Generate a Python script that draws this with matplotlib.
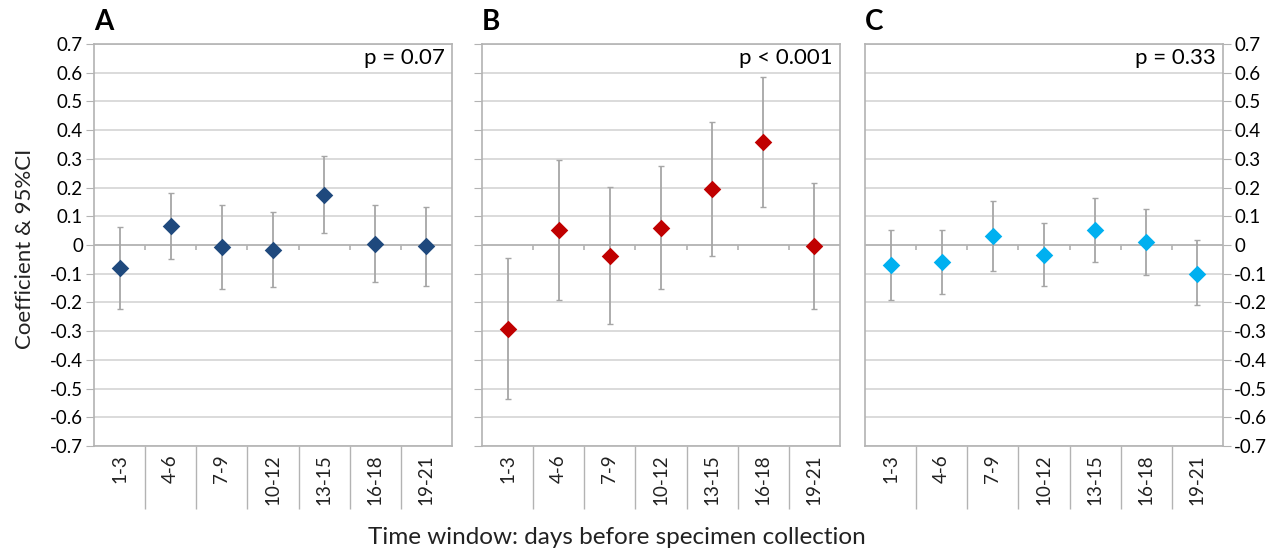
import matplotlib.pyplot as plt
import numpy as np

plt.rcParams['font.family'] = ['Lato', 'DejaVu Sans']

# Data
windows = ["1-3", "4-6", "7-9", "10-12", "13-15", "16-18", "19-21"]

coef_a = [-0.079, 0.065, -0.008, -0.016, 0.175, 0.003, -0.005]
upper_a = [0.063, 0.182, 0.138, 0.114, 0.309, 0.138, 0.133]
lower_a = [-0.222, -0.050, -0.153, -0.146, 0.043, -0.129, -0.143]

coef_b = [-0.292, 0.051, -0.037, 0.059, 0.194, 0.358, -0.005]
upper_b = [-0.044, 0.295, 0.203, 0.276, 0.428, 0.586, 0.215]
lower_b = [-0.537, -0.193, -0.275, -0.154, -0.039, 0.131, -0.223]

coef_c = [-0.070, -0.059, 0.032, -0.034, 0.053, 0.011, -0.100]
upper_c = [0.053, 0.053, 0.154, 0.078, 0.165, 0.126, 0.016]
lower_c = [-0.190, -0.172, -0.091, -0.143, -0.058, -0.103, -0.210]

panels = [
    ("A", "p = 0.07", coef_a, lower_a, upper_a, "#1f497d"),
    ("B", "p < 0.001", coef_b, lower_b, upper_b, "#c00000"),
    ("C", "p = 0.33", coef_c, lower_c, upper_c, "#00b0f0"),
]

yticks = np.round(np.arange(-0.7, 0.71, 0.1), 1)
ylabels = ["0" if abs(v) < 1e-9 else f"{v:.1f}" for v in yticks]
grid_col = "#d4d4d4"
spine_col = "#b3b3b3"
err_col = "#a6a6a6"

fig = plt.figure(figsize=(12.7, 5.53), dpi=100)
lefts = [94, 482, 865]
ax_w = 358 / 1270
ax_b = 1 - 446 / 553
ax_h = (446 - 44) / 553

for i, (letter, ptxt, coef, lo, hi, col) in enumerate(panels):
    ax = fig.add_axes([lefts[i] / 1270, ax_b, ax_w, ax_h])
    x = np.arange(len(windows))
    coef = np.array(coef)
    yerr = [coef - np.array(lo), np.array(hi) - coef]

    ax.errorbar(x, coef, yerr=yerr, fmt="none", ecolor=err_col,
                elinewidth=1.3, capsize=2.5, capthick=1, zorder=3)
    ax.scatter(x, coef, marker="D", s=80, color=col, zorder=4, linewidths=0)

    ax.set_xlim(-0.5, len(windows) - 0.5)
    ax.set_ylim(-0.7, 0.7)
    ax.set_yticks(yticks)
    ax.yaxis.grid(True, color=grid_col, linewidth=1.2)
    ax.set_axisbelow(True)

    # horizontal axis line at zero with small boundary ticks
    ax.axhline(0, color=spine_col, linewidth=1.2, zorder=2)
    bounds = np.arange(0.5, len(windows) - 0.5, 1)
    ax.vlines(bounds, -0.018, 0, color=spine_col, linewidth=1.2, zorder=2)

    # category separators below the plot, labels in between
    ax.set_xticks(bounds)
    ax.set_xticklabels([])
    ax.tick_params(axis="x", which="major", length=45, width=1, color=spine_col)
    ax.set_xticks(x, minor=True)
    ax.set_xticklabels(windows, minor=True, rotation=90, fontsize=13.5, color="#222222")
    ax.tick_params(axis="x", which="minor", length=0, pad=6)

    for s in ax.spines.values():
        s.set_color(spine_col)
        s.set_linewidth(1.2)

    if i == 0:
        ax.set_yticklabels(ylabels, fontsize=13.5)
        ax.tick_params(axis="y", length=6, color=spine_col, pad=2)
    elif i == 2:
        ax.yaxis.tick_right()
        ax.set_yticklabels(ylabels, fontsize=13.5)
        ax.tick_params(axis="y", length=6, color=spine_col, pad=2)
    else:
        ax.tick_params(axis="y", length=6, color=spine_col, labelleft=False)

    ax.text(0.98, 0.99, ptxt, transform=ax.transAxes, ha="right", va="top",
            fontsize=16, color="black")
    fig.text(lefts[i] / 1270, 1 - 30 / 553, letter, fontsize=20,
             fontweight="bold", ha="left", va="baseline")

fig.text(25 / 1270, 1 - 249 / 553, "Coefficient & 95%CI", rotation=90,
         ha="center", va="center", fontsize=16, color="#222222")
fig.text(617 / 1270, 1 - 538 / 553, "Time window: days before specimen collection",
         ha="center", va="center", fontsize=17.5, color="#222222")

fig.savefig("out.png", dpi=100)
